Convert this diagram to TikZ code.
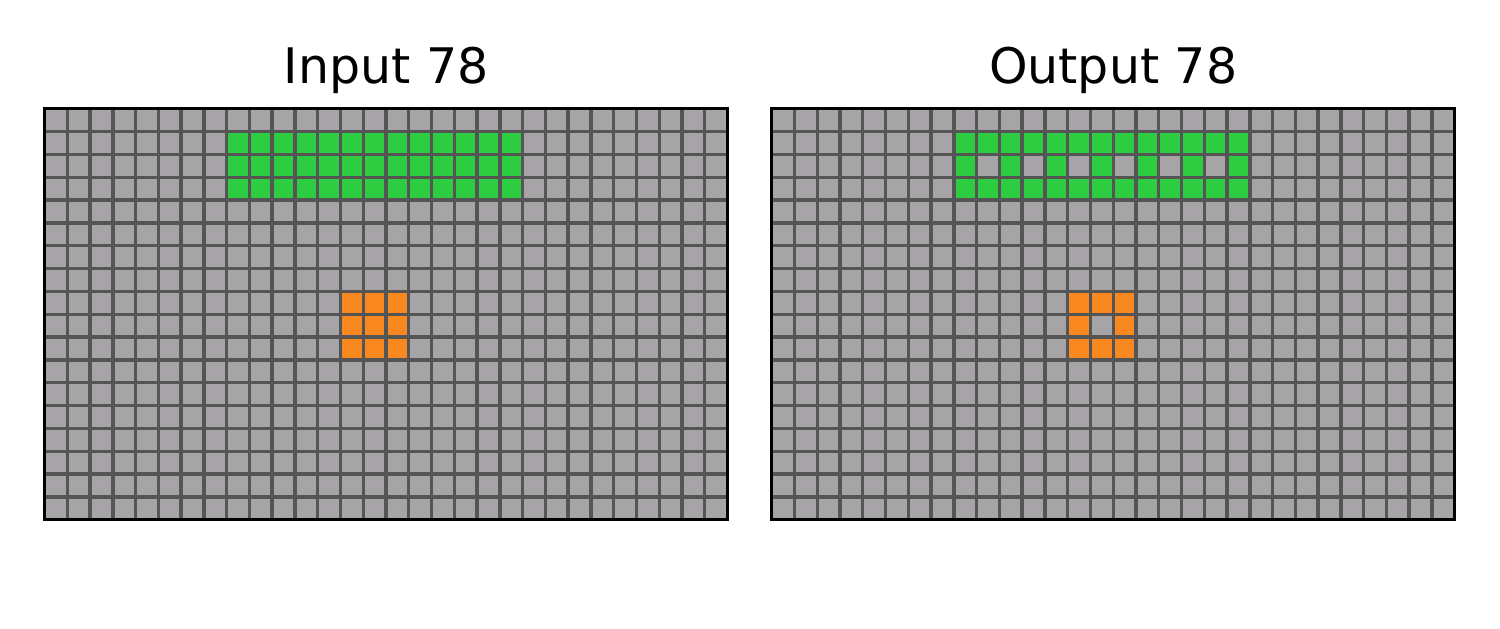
\documentclass[tikz,border=0pt]{standalone}
\usepackage{fontspec}
\setmainfont{DejaVu Sans}
\definecolor{cellgray}{RGB}{166,164,166}
\definecolor{gridgray}{RGB}{85,85,85}
\definecolor{arcgreen}{RGB}{46,204,64}
\definecolor{arcorange}{RGB}{250,136,32}
\tikzset{
  titletext/.style={font=\fontsize{49}{58}\selectfont, inner sep=0pt, anchor=base},
  gridln/.style={draw=gridgray, line width=3.4pt},
  frameln/.style={draw=black, line width=2.8pt},
  gridcell/.style={x=22.7667pt, y=-22.8333pt}
}
\begin{document}
\begin{tikzpicture}[x=1pt,y=-1pt]
\useasboundingbox (0,0) rectangle (1500,629);
\node[titletext] (intitle) at (386,83.3) {Input 78};
\node[titletext] (outtitle) at (1113.2,83.3) {Output 78};
% Input grid
\begin{scope}[shift={(44.5pt,-108.7pt)}, gridcell]
  \fill[cellgray] (0,0) rectangle (30,18);
  \fill[arcgreen] (8,1) rectangle (21,4);
  \fill[arcorange] (13,8) rectangle (16,11);
  \foreach \i in {1,...,29} \draw[gridln] (\i,0) -- (\i,18);
  \foreach \j in {1,...,17} \draw[gridln] (0,\j) -- (30,\j);
  \draw[frameln] (0,0) rectangle (30,18);
\end{scope}
% Output grid
\begin{scope}[shift={(771.7pt,-108.7pt)}, gridcell]
  \fill[cellgray] (0,0) rectangle (30,18);
  \fill[arcgreen] (8,1) rectangle (21,4);
  \foreach \c in {9,11,...,19} \fill[cellgray] (\c,2) rectangle +(1,1);
  \fill[arcorange] (13,8) rectangle (16,11);
  \fill[cellgray] (14,9) rectangle (15,10);
  \foreach \i in {1,...,29} \draw[gridln] (\i,0) -- (\i,18);
  \foreach \j in {1,...,17} \draw[gridln] (0,\j) -- (30,\j);
  \draw[frameln] (0,0) rectangle (30,18);
\end{scope}
\end{tikzpicture}
\end{document}
